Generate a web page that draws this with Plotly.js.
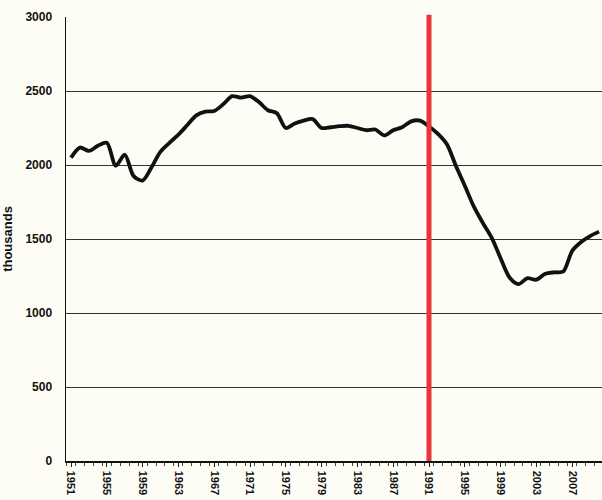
<!DOCTYPE html>
<html>
<head>
<meta charset="utf-8">
<script src="https://cdn.plot.ly/plotly-3.0.1.min.js"></script>
<style>
  html, body { margin: 0; padding: 0; background: #fdfdf6; }
  #chart { width: 602px; height: 500px; }
</style>
</head>
<body>
<div id="chart"></div>
<script>
const years = [];
for (let y = 1951; y <= 2010; y++) years.push(y);

const values = [
  2050, 2118, 2095, 2130, 2150, 1995, 2070, 1925, 1895, 1985,
  2090, 2150, 2205, 2270, 2335, 2360, 2365, 2410, 2465, 2455,
  2465, 2425, 2370, 2350, 2250, 2280, 2300, 2310, 2250, 2255,
  2262, 2265, 2250, 2235, 2240, 2200, 2235, 2255, 2295, 2300,
  2260, 2210, 2140, 1995, 1860, 1720, 1610, 1510, 1370, 1240,
  1195, 1235, 1225, 1265, 1275, 1280, 1420, 1480, 1520, 1550
];

const markerYear = 1991;
const yTickVals = [0, 500, 1000, 1500, 2000, 2500, 3000];
const yTitle = 'thousands';

const trace = {
  x: years,
  y: values,
  type: 'scatter',
  mode: 'lines',
  line: { color: '#111', width: 3.8, shape: 'spline', smoothing: 0.8 },
  hoverinfo: 'skip'
};

const FONT = 'Liberation Sans, Arial, sans-serif';

const layout = {
  width: 602,
  height: 500,
  margin: { l: 66, r: 0, t: 17, b: 39 },
  paper_bgcolor: '#fdfdf6',
  plot_bgcolor: '#fdfdf6',
  showlegend: false,
  font: { family: FONT, color: '#111' },
  xaxis: {
    range: [1950.44, 2010.33],
    tickmode: 'linear',
    tick0: 1951,
    dtick: 4,
    tickangle: 90,
    ticks: 'outside',
    ticklen: 4,
    tickcolor: '#222',
    showgrid: false,
    zeroline: false,
    showline: true,
    linecolor: '#111',
    linewidth: 1.5,
    ticklabelstandoff: 2,
    tickfont: { size: 11, family: FONT, weight: 'bold' },
    minor: { tick0: 1950.5, dtick: 1, ticks: 'outside', ticklen: 3, tickcolor: '#444', showgrid: false }
  },
  yaxis: {
    range: [0, 3000],
    tickvals: yTickVals,
    ticks: '',
    showgrid: true,
    gridcolor: '#333',
    gridwidth: 1,
    zeroline: false,
    showline: true,
    linecolor: '#111',
    linewidth: 1.5,
    ticklabelstandoff: 10,
    tickfont: { size: 12, family: FONT, weight: 'bold' },
    title: { text: yTitle, font: { size: 13, family: FONT, weight: 'bold' }, standoff: 10 }
  },
  shapes: [{
    type: 'line',
    xref: 'x', yref: 'paper',
    x0: markerYear, x1: markerYear,
    y0: 0, y1: 1.005,
    line: { color: '#e8343a', width: 5 }
  }]
};

Plotly.newPlot('chart', [trace], layout, { displayModeBar: false, staticPlot: true });
</script>
</body>
</html>
